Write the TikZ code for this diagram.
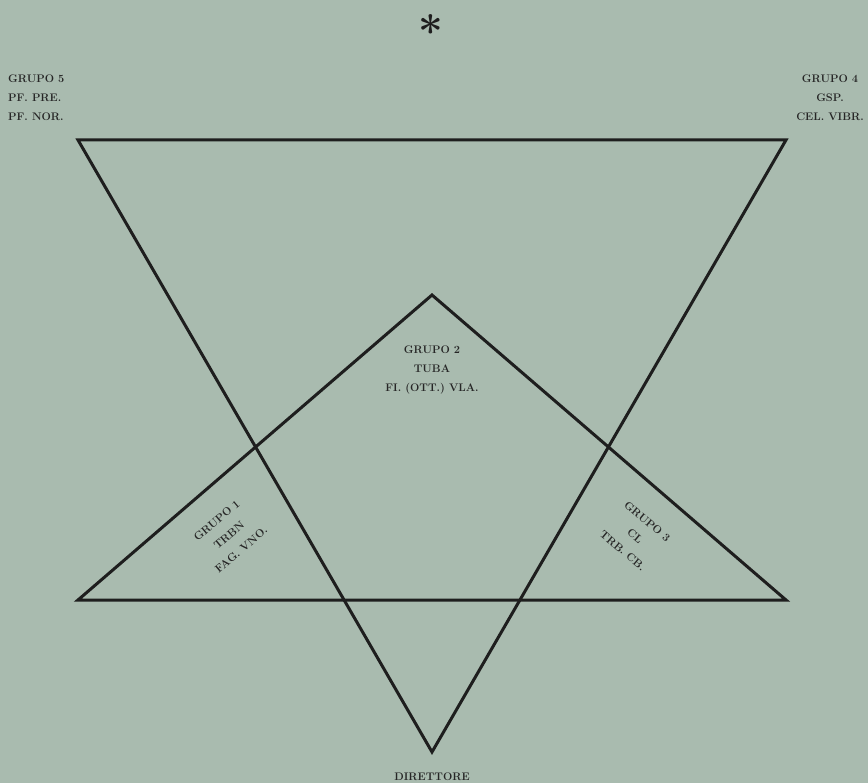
\documentclass[tikz,border=0pt]{standalone}
\definecolor{figBg}{HTML}{A9BBAF}
\definecolor{figLine}{HTML}{1E1E1E}
\definecolor{figText}{HTML}{262626}
\tikzset{
  grp/.style={text=figText,font=\fontsize{11}{19}\selectfont\bfseries,align=center,inner sep=0pt},
}
\begin{document}
\begin{tikzpicture}[x=1pt,y=-1pt]
\fill[figBg] (0,0) rectangle (868,783);
\useasboundingbox (0,0) rectangle (868,783);
% vertices
\coordinate (tl) at (78,140);
\coordinate (tr) at (786,140);
\coordinate (bot) at (432,752);
\coordinate (apex) at (432,295);
\coordinate (bl) at (78,600);
\coordinate (br) at (786,600);
\draw[figLine,line width=3pt,line join=miter] (tl) -- (tr) -- (bot) -- cycle;
\draw[figLine,line width=3pt,line join=miter] (bl) -- (apex) -- (br) -- cycle;
% labels
\node[text=figLine,font=\fontsize{44}{44}\selectfont\bfseries] (star) at (431,31) {*};
\node[grp,align=left,anchor=west] (g5) at (8,98) {GRUPO 5\\PF. PRE.\\PF. NOR.};
\node[grp] (g4) at (830,98) {GRUPO 4\\GSP.\\CEL. VIBR.};
\node[grp] (g2) at (432,370) {GRUPO 2\\TUBA\\FI. (OTT.) VLA.};
\node[grp,rotate=40] (g1) at (229,535) {GRUPO 1\\TRBN\\FAG. VNO.};
\node[grp,rotate=-40] (g3) at (635,536) {GRUPO 3\\CL\\TRB. CB.};
\node[grp] (dir) at (432,777) {DIRETTORE};
\end{tikzpicture}
\end{document}
